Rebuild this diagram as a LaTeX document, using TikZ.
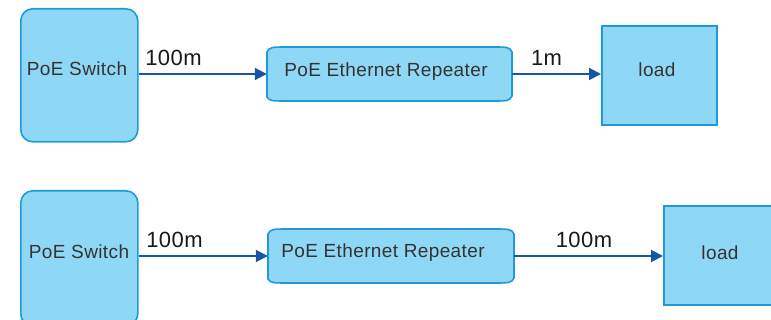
\documentclass[tikz,border=0pt]{standalone}
\usepackage{fontspec}
\setmainfont{Liberation Sans}
\newfontfamily\boxfont[LetterSpace=2]{Liberation Sans}
\usetikzlibrary{arrows.meta,calc}
\definecolor{boxfill}{HTML}{8ED8F6}
\definecolor{boxline}{HTML}{1E9BD7}
\definecolor{arrowc}{HTML}{1556A6}
\definecolor{txt}{HTML}{333333}
\tikzset{
  sw/.style={draw=boxline, fill=boxfill, line width=1.6pt, rounded corners=12pt},
  ld/.style={draw=boxline, fill=boxfill, line width=1.6pt},
  rep/.style={text=txt, font=\boxfont\fontsize{19}{21}\selectfont},
  repshape/.style={draw=boxline, fill=boxfill, line width=1.6pt},
  conn/.style={draw=arrowc, line width=2pt, -{Triangle[length=12pt,width=12pt]}},
  lbl/.style={text=black!90, font=\boxfont\fontsize{22}{24}\selectfont, inner sep=0pt}
}
\begin{document}
\begin{tikzpicture}[x=1pt,y=-1pt]
\useasboundingbox (0,0) rectangle (771,320);
\clip (0,0) rectangle (771,320);
% ---------- top row ----------
\node[sw, minimum width=117pt, minimum height=133pt, anchor=north west] (sw1) at (20,8) {};
\node[rep] at (77,69) {PoE Switch};
\path[repshape] (267,97) -- (267,52) .. controls (270,47) .. (290,47) -- (490,47) .. controls (509,47) .. (512,52) -- (512,96) .. controls (509,101) .. (490,101) -- (290,101) .. controls (270,101) .. (267,97) -- cycle;
\node[minimum width=245pt, minimum height=54pt] (rep1) at (389.5,74) {};
\node[rep] at (386,72) {PoE Ethernet Repeater};
\node[ld, minimum width=115pt, minimum height=99pt, anchor=north west] (ld1) at (601,25) {};
\node[rep] at (657,70) {load};
\coordinate (a1) at (137,74);
\draw[conn] (sw1.east |- a1) -- (rep1.west |- a1);
\node[lbl] at (173.5,58) {100m};
\draw[conn] (rep1.east |- a1) -- (ld1.west |- a1);
\node[lbl] at (546.5,58) {1m};
% ---------- bottom row ----------
\node[sw, minimum width=117pt, minimum height=135pt, anchor=north west] (sw2) at (20,190) {};
\node[rep] at (79,252) {PoE Switch};
\path[repshape] (268,279) -- (268,234) .. controls (271,229) .. (291,229) -- (491,229) .. controls (511,229) .. (514,234) -- (514,278) .. controls (511,283) .. (491,283) -- (291,283) .. controls (271,283) .. (268,279) -- cycle;
\node[minimum width=246pt, minimum height=54pt] (rep2) at (391,256) {};
\node[rep] at (383,253) {PoE Ethernet Repeater};
\node[ld, minimum width=115pt, minimum height=99pt, anchor=north west] (ld2) at (663,205) {};
\node[rep] at (720,253) {load};
\coordinate (a2) at (137,256);
\draw[conn] (sw2.east |- a2) -- (rep2.west |- a2);
\node[lbl] at (174.5,240) {100m};
\draw[conn] (rep2.east |- a2) -- (ld2.west |- a2);
\node[lbl] at (584,240) {100m};
\end{tikzpicture}
\end{document}
